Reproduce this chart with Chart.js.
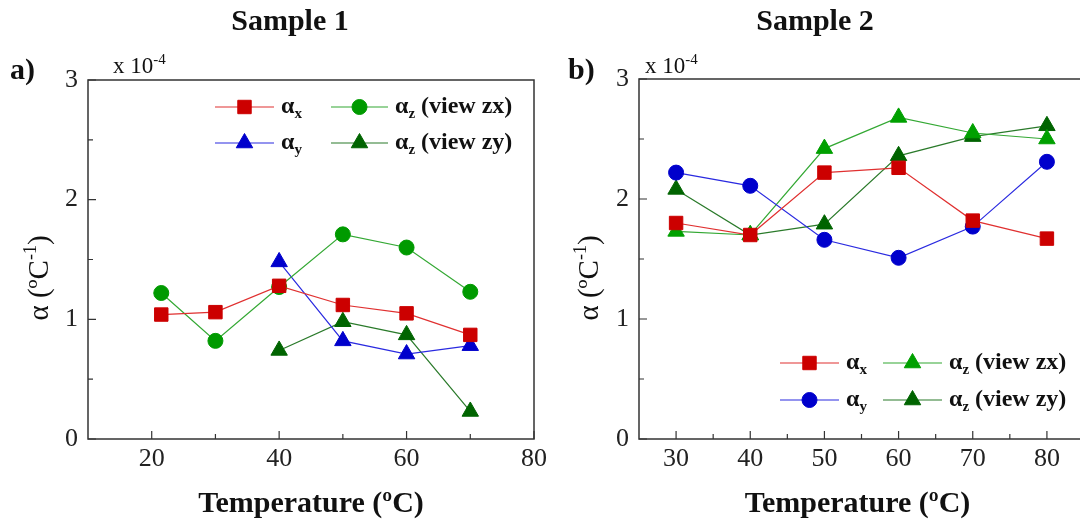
<!DOCTYPE html>
<html>
<head>
<meta charset="utf-8">
<script src="https://cdn.jsdelivr.net/npm/chart.js@4.4.0/dist/chart.umd.min.js"></script>
<style>
  html, body { margin: 0; padding: 0; background: #fff; overflow: hidden; }
  #wrap { position: relative; width: 1080px; height: 526px; overflow: hidden; }
  canvas { position: absolute; top: 0; }
  #c1 { left: 0; }
  #c2 { left: 550px; }
</style>
</head>
<body>
<div id="wrap">
  <canvas id="c1" width="560" height="526"></canvas>
  <canvas id="c2" width="550" height="526"></canvas>
</div>
<script>
// Sample 1 (values x 10^-4 / ºC)
const temp1 = [21.5, 30, 40, 50, 60, 70];
const alphaX1 = [1.04, 1.06, 1.28, 1.12, 1.05, 0.87];
const alphaY1 = [null, null, 1.48, 0.82, 0.71, 0.78];
const alphaZx1 = [1.22, 0.82, 1.27, 1.71, 1.60, 1.23];
const alphaZy1 = [null, null, 0.74, 0.98, 0.87, 0.23];
const xTicks1 = [20, 40, 60, 80];
const xMinor1 = [30, 50, 70];

// Sample 2
const temp2 = [30, 40, 50, 60, 70, 80];
const alphaX2 = [1.80, 1.70, 2.22, 2.26, 1.82, 1.67];
const alphaY2 = [2.22, 2.11, 1.66, 1.51, 1.77, 2.31];
const alphaZx2 = [1.73, 1.70, 2.42, 2.68, 2.55, 2.50];
const alphaZy2 = [2.08, 1.70, 1.79, 2.36, 2.52, 2.61];
const xTicks2 = [30, 40, 50, 60, 70, 80];
const xMinor2 = [35, 45, 55, 65, 75];

const yTicks = [0, 1, 2, 3];
const yMinor = [0.5, 1.5, 2.5];

const SERIF = '"Liberation Serif", "Times New Roman", serif';

function pts(xs, ys) {
  return xs.map((x, i) => ({ x: x, y: ys[i] })).filter(p => p.y !== null);
}

function series(label, xs, ys, line, fill, style, r) {
  return {
    label: label,
    data: pts(xs, ys),
    borderColor: line,
    borderWidth: 1.2,
    backgroundColor: fill,
    pointBackgroundColor: fill,
    pointBorderColor: fill,
    pointBorderWidth: 1,
    pointStyle: style,
    pointRadius: r,
    tension: 0
  };
}

// draws a string with a sub/superscript part, left to right
function richText(ctx, x, y, parts) {
  let cx = x;
  parts.forEach(p => {
    ctx.font = p.font;
    ctx.fillText(p.t, cx, y + (p.dy || 0));
    cx += ctx.measureText(p.t).width;
  });
}
function richWidth(ctx, parts) {
  let w = 0;
  parts.forEach(p => { ctx.font = p.font; w += ctx.measureText(p.t).width; });
  return w;
}

const deco = {
  id: 'deco',
  afterDraw(chart, args, o) {
    const { ctx, chartArea: a, scales: { x, y } } = chart;
    ctx.save();

    // frame
    ctx.strokeStyle = '#333';
    ctx.lineWidth = 1.5;
    ctx.strokeRect(a.left, a.top, a.right - a.left, a.bottom - a.top);

    // inward ticks
    ctx.lineWidth = 1.2;
    ctx.beginPath();
    x.ticks.forEach(t => { const p = x.getPixelForValue(t.value); ctx.moveTo(p, a.bottom); ctx.lineTo(p, a.bottom - 8); });
    o.xMinor.forEach(v => { const p = x.getPixelForValue(v); ctx.moveTo(p, a.bottom); ctx.lineTo(p, a.bottom - 5); });
    y.ticks.forEach(t => { const p = y.getPixelForValue(t.value); ctx.moveTo(a.left, p); ctx.lineTo(a.left + 8, p); });
    yMinor.forEach(v => { const p = y.getPixelForValue(v); ctx.moveTo(a.left, p); ctx.lineTo(a.left + 5, p); });
    ctx.stroke();

    ctx.fillStyle = '#111';
    ctx.textBaseline = 'middle';

    // panel title and letter
    ctx.font = 'bold 30px ' + SERIF;
    ctx.textAlign = 'center';
    ctx.fillText(o.title, o.titleX, 22);
    ctx.textAlign = 'left';
    ctx.fillText(o.letter, o.letterX, 71);

    // exponent note
    richText(ctx, o.expX, 67, [
      { t: 'x 10', font: '23px ' + SERIF },
      { t: '-4', font: '15px ' + SERIF, dy: -7 }
    ]);

    // x axis title
    ctx.font = 'bold 30px ' + SERIF;
    ctx.textAlign = 'center';
    ctx.fillText('Temperature (ºC)', (a.left + a.right) / 2 + o.xTitleShift, 504);

    // y axis title, rotated
    ctx.textAlign = 'left';
    const yParts = [
      { t: 'α (ºC', font: '29px ' + SERIF },
      { t: '-1', font: '18px ' + SERIF, dy: -9 },
      { t: ')', font: '29px ' + SERIF }
    ];
    ctx.save();
    ctx.translate(o.yTitleX, 278);
    ctx.rotate(-Math.PI / 2);
    richText(ctx, -richWidth(ctx, yParts) / 2, 0, yParts);
    ctx.restore();

    // legend
    o.legend.forEach(it => {
      const ds = chart.data.datasets[it.index];
      ctx.strokeStyle = ds.borderColor;
      ctx.lineWidth = 1.2;
      ctx.beginPath();
      ctx.moveTo(it.x0, it.y);
      ctx.lineTo(it.x1, it.y);
      ctx.stroke();
      ctx.fillStyle = ds.pointBackgroundColor;
      ctx.strokeStyle = ds.pointBorderColor;
      ctx.lineWidth = 1;
      Chart.helpers.drawPoint(ctx, { pointStyle: ds.pointStyle, radius: ds.pointRadius, borderWidth: 1, rotation: 0 }, (it.x0 + it.x1) / 2, it.y);
      ctx.fillStyle = '#111';
      ctx.textBaseline = 'middle';
      richText(ctx, it.x1 + 7, it.y, [
        { t: 'α', font: 'bold 24px ' + SERIF },
        { t: it.sub, font: 'bold 15px ' + SERIF, dy: 7 },
        { t: it.rest, font: 'bold 24px ' + SERIF }
      ]);
    });

    ctx.restore();
  }
};

function makeChart(id, datasets, xMin, xMax, xTicks, padRight, top, yWidth, deco_opts) {
  return new Chart(document.getElementById(id), {
    type: 'line',
    data: { datasets: datasets },
    options: {
      responsive: false,
      animation: false,
      devicePixelRatio: 1,
      layout: { autoPadding: false, padding: { left: 0, right: padRight, top: top, bottom: 0 } },
      plugins: { legend: { display: false }, tooltip: { enabled: false }, deco: deco_opts },
      scales: {
        x: {
          type: 'linear', min: xMin, max: xMax,
          afterBuildTicks: s => { s.ticks = xTicks.map(v => ({ value: v })); },
          afterFit: s => { s.height = 87; },
          grid: { display: false, drawTicks: false },
          border: { display: false },
          ticks: { color: '#222', padding: 5, font: { family: SERIF, size: 26 } }
        },
        y: {
          type: 'linear', min: 0, max: 3,
          afterBuildTicks: s => { s.ticks = yTicks.map(v => ({ value: v })); },
          afterFit: s => { s.width = yWidth; },
          grid: { display: false, drawTicks: false },
          border: { display: false },
          ticks: { color: '#222', padding: 10, font: { family: SERIF, size: 26 } }
        }
      }
    },
    plugins: [deco]
  });
}

makeChart('c1', [
  series('αx', temp1, alphaX1, '#e03030', '#cc0000', 'rect', 9.5),
  series('αz (view zx)', temp1, alphaZx1, '#33a833', '#009a00', 'circle', 7.5),
  series('αy', temp1, alphaY1, '#2a2ae0', '#0000cc', 'triangle', 9.5),
  series('αz (view zy)', temp1, alphaZy1, '#2a7a2a', '#006400', 'triangle', 9.5)
], 10, 80, xTicks1, 26, 80, 88, {
  title: 'Sample 1', titleX: 290, letter: 'a)', letterX: 10, expX: 113,
  yTitleX: 40, xTitleShift: 0, xMinor: xMinor1,
  legend: [
    { index: 0, x0: 215, x1: 274, y: 107, sub: 'x', rest: '' },
    { index: 1, x0: 331, x1: 388, y: 107, sub: 'z', rest: ' (view zx)' },
    { index: 2, x0: 215, x1: 274, y: 143, sub: 'y', rest: '' },
    { index: 3, x0: 331, x1: 388, y: 143, sub: 'z', rest: ' (view zy)' }
  ]
});

makeChart('c2', [
  series('αx', temp2, alphaX2, '#e03030', '#cc0000', 'rect', 9.5),
  series('αy', temp2, alphaY2, '#2a2ae0', '#0000cc', 'circle', 7.5),
  series('αz (view zx)', temp2, alphaZx2, '#33a833', '#00a000', 'triangle', 9.5),
  series('αz (view zy)', temp2, alphaZy2, '#2a7a2a', '#006400', 'triangle', 9.5)
], 25, 85, xTicks2, 16, 79, 89, {
  title: 'Sample 2', titleX: 265, letter: 'b)', letterX: 18, expX: 95,
  yTitleX: 40, xTitleShift: -4, xMinor: xMinor2,
  legend: [
    { index: 0, x0: 230, x1: 289, y: 363, sub: 'x', rest: '' },
    { index: 2, x0: 333, x1: 392, y: 363, sub: 'z', rest: ' (view zx)' },
    { index: 1, x0: 230, x1: 289, y: 400, sub: 'y', rest: '' },
    { index: 3, x0: 333, x1: 392, y: 400, sub: 'z', rest: ' (view zy)' }
  ]
});
</script>
</body>
</html>
